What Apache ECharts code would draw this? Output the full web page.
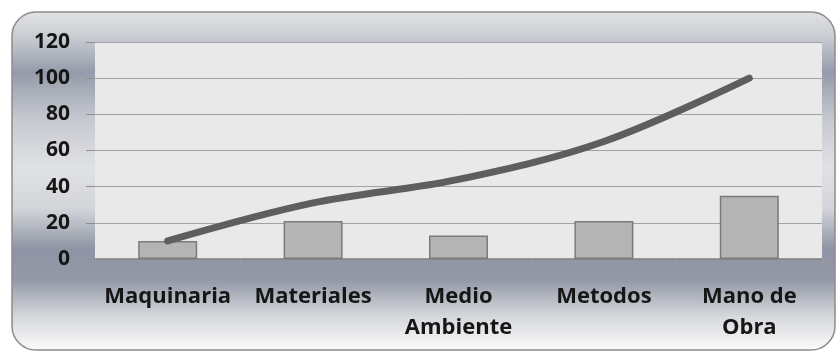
<!DOCTYPE html>
<html>
<head>
<meta charset="utf-8">
<style>
  html, body { margin: 0; padding: 0; background: #ffffff; }
  #chart { width: 838px; height: 352px; }
</style>
<script src="https://cdn.jsdelivr.net/npm/echarts@6/dist/echarts.min.js"></script>
</head>
<body>
<div id="chart"></div>
<script>
// Causes (Pareto): frequency per cause and cumulative percentage
const categories = ['Maquinaria', 'Materiales', 'Medio\nAmbiente', 'Metodos', 'Mano de\nObra'];
const frequency = [10, 21, 13, 21, 35];
const cumulative = [10, 31, 44, 65, 100];
const yTicks = { min: 0, max: 120, interval: 20 };

const chart = echarts.init(document.getElementById('chart'), null, { renderer: 'canvas' });

const labelFont = {
  fontFamily: '"Open Sans", Lato, sans-serif',
  fontWeight: 'bold',
  color: '#161616'
};

chart.setOption({
  animation: false,
  backgroundColor: '#ffffff',
  graphic: [{
    type: 'rect',
    z: -10,
    silent: true,
    shape: { x: 12, y: 12, width: 823, height: 338, r: 24 },
    style: {
      fill: new echarts.graphic.LinearGradient(0, 0, 0, 1, [
        { offset: 0.00, color: '#e2e3e6' },
        { offset: 0.08, color: '#c7cad0' },
        { offset: 0.18, color: '#959baa' },
        { offset: 0.32, color: '#c6c9d0' },
        { offset: 0.46, color: '#e0e1e4' },
        { offset: 0.58, color: '#d3d5da' },
        { offset: 0.70, color: '#8f95a4' },
        { offset: 0.79, color: '#9298a6' },
        { offset: 0.90, color: '#d6d8dc' },
        { offset: 1.00, color: '#fbfbfb' }
      ]),
      stroke: '#8c8c8c',
      lineWidth: 1.5
    }
  }],
  grid: {
    left: 95, right: 16, top: 42, bottom: 93,
    show: true,
    backgroundColor: '#e9e9e9',
    borderWidth: 0
  },
  xAxis: {
    type: 'category',
    data: categories,
    axisLine: { show: true, lineStyle: { color: '#7f7f7f', width: 1.5 } },
    axisTick: { show: true, length: 5, lineStyle: { color: '#9a9a9a' } },
    axisLabel: Object.assign({ margin: 22, lineHeight: 31, interval: 0, fontSize: 22 }, labelFont)
  },
  yAxis: {
    type: 'value',
    min: yTicks.min,
    max: yTicks.max,
    interval: yTicks.interval,
    axisLine: { show: false },
    axisTick: { show: true, length: 9, lineStyle: { color: '#909090' } },
    splitLine: { show: true, lineStyle: { color: '#a2a2a2', width: 1 } },
    axisLabel: Object.assign({ margin: 25, fontSize: 21 }, labelFont)
  },
  series: [
    {
      name: 'Frecuencia',
      type: 'bar',
      data: frequency,
      barWidth: 59,
      itemStyle: { color: '#b4b4b4', borderColor: '#7a7a7a', borderWidth: 1.5 },
      z: 2
    },
    {
      name: 'Acumulado',
      type: 'line',
      data: cumulative,
      smooth: 0.35,
      symbol: 'none',
      lineStyle: { color: '#5e5e5e', width: 7, cap: 'round', join: 'round' },
      z: 3
    }
  ]
});
</script>
</body>
</html>
